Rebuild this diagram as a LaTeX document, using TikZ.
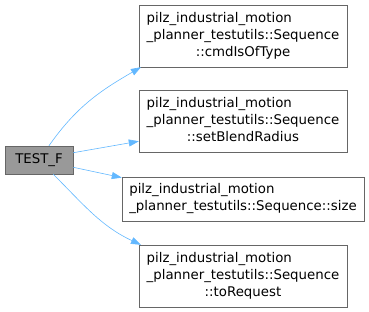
\documentclass[tikz,border=0pt]{standalone}
\usepackage{fontspec}
\setmainfont{DejaVu Sans}
\usetikzlibrary{arrows.meta}
\definecolor{edgeblue}{HTML}{63B8FF}
\definecolor{boxline}{HTML}{666666}
\definecolor{boxfill}{HTML}{999999}
\begin{document}
\begin{tikzpicture}[x=1pt,y=-1pt,
  fn/.style={draw=boxline,fill=white,inner sep=0pt,
    font=\fontsize{13.33}{16.7}\selectfont},
  callarrow/.style={draw=edgeblue,line width=0.6pt,-{Triangle[length=10pt,width=7pt]}}]
  \useasboundingbox (0,0) rectangle (369,312);
  \node[fn,fill=boxfill,minimum width=68pt,minimum height=28pt] (test) at (39,160) {TEST\_F};
  \node[fn,minimum width=208pt,minimum height=62pt] (seqcmd) at (243,36)
    {\begin{tabular}{@{}l@{}}pilz\_industrial\_motion\\\_planner\_testutils::Sequence\\\multicolumn{1}{@{}c@{}}{::cmdIsOfType}\end{tabular}};
  \node[fn,minimum width=208pt,minimum height=62pt] (seqblend) at (243,121)
    {\begin{tabular}{@{}l@{}}pilz\_industrial\_motion\\\_planner\_testutils::Sequence\\\multicolumn{1}{@{}c@{}}{::setBlendRadius}\end{tabular}};
  \node[fn,minimum width=242pt,minimum height=44pt] (seqsize) at (243,199)
    {\begin{tabular}{@{}l@{}}pilz\_industrial\_motion\\\_planner\_testutils::Sequence::size\end{tabular}};
  \node[fn,minimum width=208pt,minimum height=62pt] (seqreq) at (243,276)
    {\begin{tabular}{@{}l@{}}pilz\_industrial\_motion\\\_planner\_testutils::Sequence\\\multicolumn{1}{@{}c@{}}{::toRequest}\end{tabular}};
  \draw[callarrow] (test.55) to[out=55,in=210] (seqcmd.197);
  \draw[callarrow] (test.12) -- (seqblend.191);
  \draw[callarrow] (test.-12) -- (seqsize.170);
  \draw[callarrow] (test.-45) to[out=-45,in=155] (seqreq.163);
\end{tikzpicture}
\end{document}
